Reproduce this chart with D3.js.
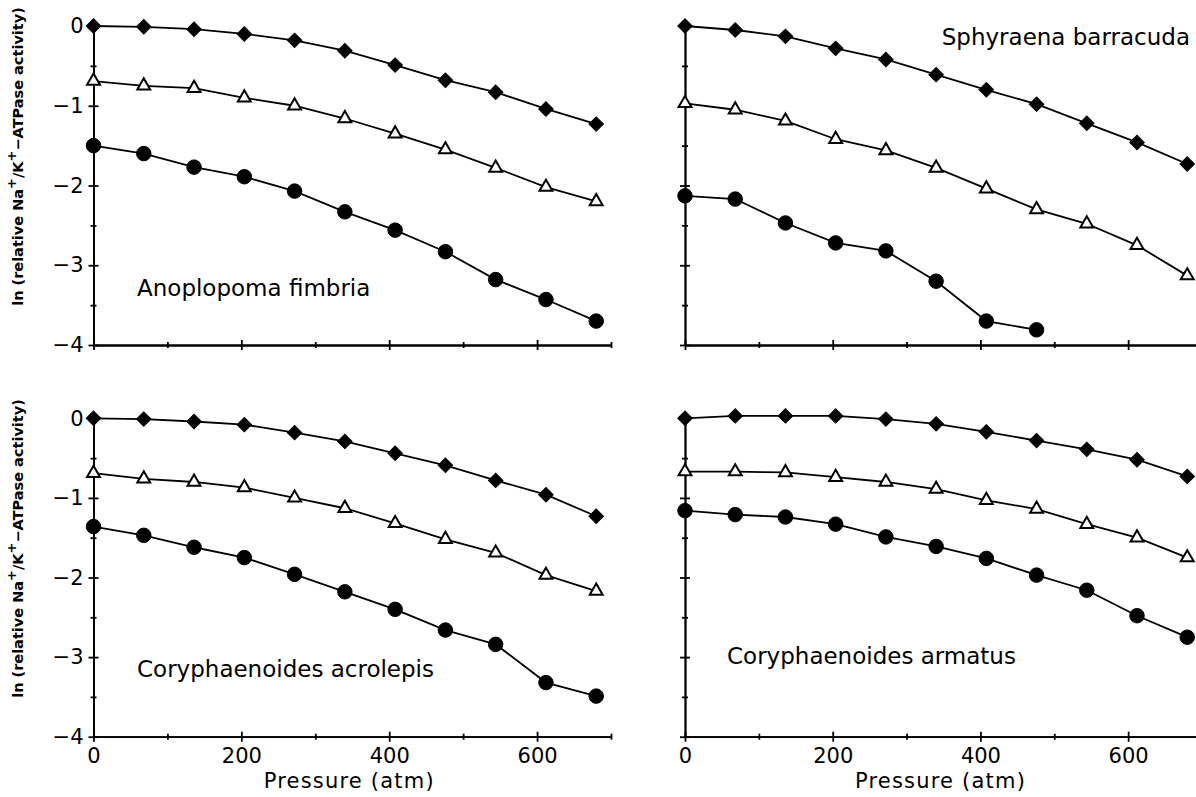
<!DOCTYPE html>
<html>
<head>
<meta charset="utf-8">
<script src="https://cdn.jsdelivr.net/npm/d3@7"></script>
<style>
  html, body { margin: 0; padding: 0; background: #fff; }
  svg { display: block; font-family: "DejaVu Sans", sans-serif; }
</style>
</head>
<body>
<svg id="chart" width="1196" height="797"></svg>
<script>
// Pressure steps (atm) shared by every panel
const pressure = [0, 68, 136, 204, 272, 340, 408, 476, 544, 612, 680];

// Anoplopoma fimbria
const fimbriaDiamond  = [0, -0.01, -0.04, -0.10, -0.18, -0.31, -0.49, -0.68, -0.83, -1.04, -1.23];
const fimbriaTriangle = [-0.69, -0.75, -0.78, -0.90, -1.00, -1.16, -1.35, -1.55, -1.78, -2.02, -2.20];
const fimbriaCircle   = [-1.50, -1.60, -1.77, -1.89, -2.07, -2.33, -2.56, -2.83, -3.18, -3.43, -3.70];

// Sphyraena barracuda
const barracudaDiamond  = [0, -0.05, -0.13, -0.28, -0.42, -0.61, -0.80, -0.98, -1.22, -1.46, -1.73];
const barracudaTriangle = [-0.97, -1.05, -1.19, -1.42, -1.56, -1.78, -2.04, -2.30, -2.48, -2.75, -3.13];
const barracudaCircle   = [-2.13, -2.17, -2.47, -2.72, -2.82, -3.20, -3.70, -3.81];

// Coryphaenoides acrolepis
const acrolepisDiamond  = [0, -0.01, -0.04, -0.08, -0.18, -0.29, -0.44, -0.59, -0.78, -0.96, -1.23];
const acrolepisTriangle = [-0.69, -0.76, -0.80, -0.87, -1.00, -1.13, -1.32, -1.52, -1.69, -1.97, -2.17];
const acrolepisCircle   = [-1.36, -1.47, -1.62, -1.75, -1.96, -2.18, -2.40, -2.66, -2.84, -3.32, -3.49];

// Coryphaenoides armatus
const armatusDiamond  = [0, 0.03, 0.03, 0.03, -0.01, -0.07, -0.17, -0.28, -0.39, -0.52, -0.73];
const armatusTriangle = [-0.67, -0.67, -0.68, -0.74, -0.80, -0.89, -1.03, -1.14, -1.33, -1.50, -1.75];
const armatusCircle   = [-1.16, -1.21, -1.24, -1.33, -1.49, -1.61, -1.76, -1.97, -2.16, -2.48, -2.75];

// Axis ticks
const xMajorTicks = [0, 200, 400, 600];
const xMinorTicks = [100, 300, 500, 700];
const yMajorTicks = [0, -1, -2, -3, -4];
const yMinorTicks = [-0.5, -1.5, -2.5, -3.5];

const speciesNames = ["Anoplopoma fimbria", "Sphyraena barracuda", "Coryphaenoides acrolepis", "Coryphaenoides armatus"];
const xTitle = "Pressure (atm)";

const svg = d3.select("#chart");

// Column / row scales
const xLeft  = d3.scaleLinear().domain([0, 700]).range([93.5, 611]);
const xRight = d3.scaleLinear().domain([0, 700]).range([685, 1202]);
const yTop    = d3.scaleLinear().domain([-4, 0]).range([345, 26]);
const yBottom = d3.scaleLinear().domain([-4, 0]).range([736.7, 418.3]);

const panels = [
  { x: xLeft,  y: yTop,    labels: true,  xLabels: false, name: speciesNames[0], nameX: 137, nameY: 296, nameAnchor: "start",
    series: [fimbriaDiamond, fimbriaTriangle, fimbriaCircle] },
  { x: xRight, y: yTop,    labels: false, xLabels: false, name: speciesNames[1], nameX: 1190, nameY: 45, nameAnchor: "end",
    series: [barracudaDiamond, barracudaTriangle, barracudaCircle] },
  { x: xLeft,  y: yBottom, labels: true,  xLabels: true,  name: speciesNames[2], nameX: 137, nameY: 677, nameAnchor: "start",
    series: [acrolepisDiamond, acrolepisTriangle, acrolepisCircle] },
  { x: xRight, y: yBottom, labels: false, xLabels: true,  name: speciesNames[3], nameX: 727, nameY: 664, nameAnchor: "start",
    series: [armatusDiamond, armatusTriangle, armatusCircle] }
];

const markerShapes = [
  { type: d3.symbolSquare,   size: 105, fill: "#000", rotate: 45 },
  { type: d3.symbolTriangle, size: 72,  fill: "#fff", rotate: 0 },
  { type: d3.symbolCircle,   size: 165, fill: "#000", rotate: 0 }
];

function crossTicks(g, len, horizontal) {
  g.selectAll(".tick line").attr(horizontal ? "y1" : "x1", len);
}

panels.forEach(p => {
  const g = svg.append("g");
  const x0 = p.x(0), y0 = p.y(-4);

  // y axis: major ticks (labelled on left column), minor ticks
  const yMaj = g.append("g").attr("transform", `translate(${x0},0)`)
    .call(d3.axisLeft(p.y).tickValues(yMajorTicks).tickSize(5).tickSizeOuter(0).tickPadding(5)
      .tickFormat(p.labels ? d3.format("d") : () => ""));
  crossTicks(yMaj, 5, false);
  const yMin = g.append("g").attr("transform", `translate(${x0},0)`)
    .call(d3.axisLeft(p.y).tickValues(yMinorTicks).tickSize(3).tickSizeOuter(0).tickFormat(() => ""));
  crossTicks(yMin, 3, false);

  // x axis
  const xMaj = g.append("g").attr("transform", `translate(0,${y0})`)
    .call(d3.axisBottom(p.x).tickValues(xMajorTicks).tickSize(5).tickSizeOuter(0).tickPadding(6)
      .tickFormat(p.xLabels ? d3.format("d") : () => ""));
  crossTicks(xMaj, -5, true);
  const xMin = g.append("g").attr("transform", `translate(0,${y0})`)
    .call(d3.axisBottom(p.x).tickValues(xMinorTicks).tickSize(3).tickSizeOuter(0).tickFormat(() => ""));
  crossTicks(xMin, -3, true);

  g.selectAll(".domain, .tick line").attr("stroke", "#000").attr("stroke-width", 1.8);
  g.selectAll(".tick text").attr("font-size", 21).attr("fill", "#000")
    .attr("font-family", "'DejaVu Sans', sans-serif");

  // data lines and markers
  const line = d3.line().x((d, i) => p.x(pressure[i])).y(d => p.y(d));
  p.series.forEach((vals, si) => {
    g.append("path").datum(vals)
      .attr("d", line).attr("fill", "none").attr("stroke", "#000").attr("stroke-width", 1.8);
    const m = markerShapes[si];
    g.selectAll(null).data(vals).enter().append("path")
      .attr("d", d3.symbol().type(m.type).size(m.size))
      .attr("transform", (d, i) => `translate(${p.x(pressure[i])},${p.y(d)}) rotate(${m.rotate})`)
      .attr("fill", m.fill).attr("stroke", "#000").attr("stroke-width", si === 1 ? 2 : 1);
  });

  // species name
  g.append("text").attr("x", p.nameX).attr("y", p.nameY)
    .attr("text-anchor", p.nameAnchor).attr("font-size", 23).attr("fill", "#000")
    .text(p.name);

  // x title for bottom row
  if (p.xLabels) {
    g.append("text").attr("x", (p.x(0) + p.x(700)) / 2 - 3).attr("y", 788)
      .attr("text-anchor", "middle").attr("font-size", 21).attr("letter-spacing", 1.2)
      .attr("fill", "#000").text(xTitle);
  }

  // y title for left column
  if (p.labels) {
    const cy = (p.y(0) + p.y(-4)) / 2 - 29;
    const t = g.append("text")
      .attr("transform", `translate(23,${cy}) rotate(-90)`)
      .attr("text-anchor", "middle").attr("font-size", 14.5).attr("font-weight", "bold").attr("fill", "#000");
    t.append("tspan").text("ln (relative Na");
    t.append("tspan").attr("dy", -7).attr("font-size", 13).text("+");
    t.append("tspan").attr("dy", 7).text("/K");
    t.append("tspan").attr("dy", -7).attr("font-size", 13).text("+");
    t.append("tspan").attr("dy", 7).text("\u2212ATPase activity)");
  }
});
</script>
</body>
</html>
